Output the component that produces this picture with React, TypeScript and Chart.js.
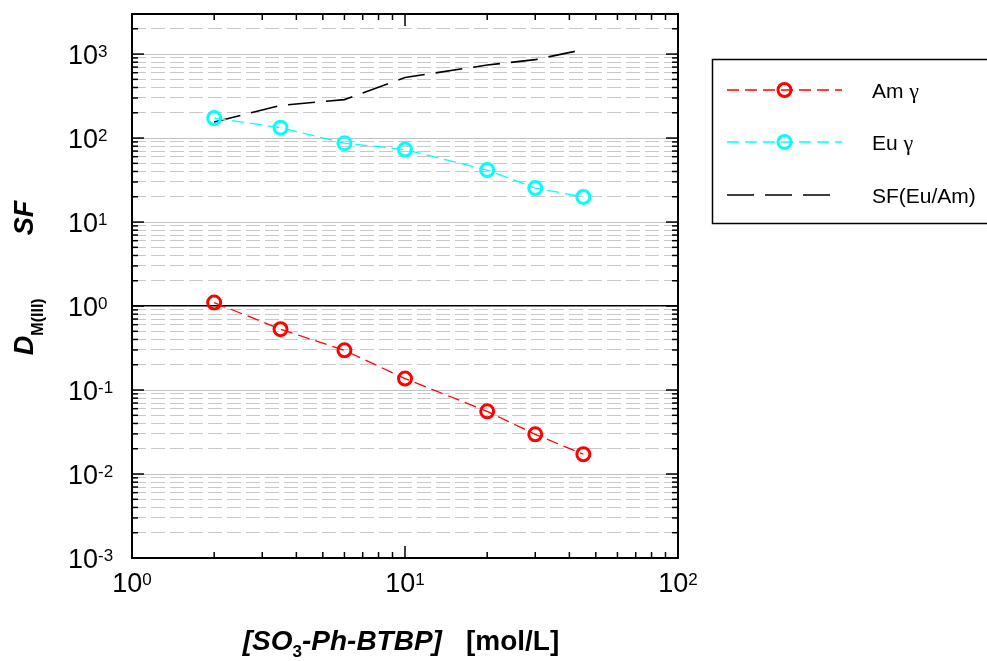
import React, { useEffect, useRef } from 'react';
import { Chart, registerables } from 'chart.js';

Chart.register(...registerables);

const FONT = '"Liberation Sans", Arial, Helvetica, sans-serif';
const SERIF = '"Liberation Serif", "Times New Roman", serif';

// ---- data ----
const concentrations = [2, 3.5, 6, 10, 20, 30, 45];
const amD = [1.1, 0.53, 0.297, 0.137, 0.0557, 0.0297, 0.0172];
const euD = [173, 133, 87, 73, 41.6, 25.4, 19.9];
const sfEuAm = [155, 245, 287, 526, 740, 858, 1130];
const seriesLabels = ['Am γ', 'Eu γ', 'SF(Eu/Am)'];
const xRange = [1, 100];
const yRange = [0.001, 3000];
const tickBase = '10';

type Part = { text: string; kind: 'bi' | 'b' | 'sub' | 'gap' };
const xTitleParts: Part[] = [
  { text: '[SO', kind: 'bi' },
  { text: '3', kind: 'sub' },
  { text: '-Ph-BTBP]', kind: 'bi' },
  { text: '   ', kind: 'gap' },
  { text: '[mol/L]', kind: 'b' },
];
const yTitleParts: Part[] = [
  { text: 'D', kind: 'bi' },
  { text: 'M(III)', kind: 'sub' },
  { text: '      ', kind: 'gap' },
  { text: 'SF', kind: 'bi' },
];

const isPow10 = (v: number) => {
  const l = Math.log10(v);
  return Math.abs(l - Math.round(l)) < 1e-6;
};
const expOf = (v: number) => String(Math.round(Math.log10(v)));

function logTicks(min: number, max: number) {
  const out: { value: number; major: boolean }[] = [];
  for (let e = Math.floor(Math.log10(min)); e <= Math.ceil(Math.log10(max)); e++) {
    for (let m = 1; m <= 9; m++) {
      const v = Number((m * Math.pow(10, e)).toPrecision(8));
      if (v >= min * (1 - 1e-9) && v <= max * (1 + 1e-9)) out.push({ value: v, major: m === 1 });
    }
  }
  return out;
}

function fontFor(kind: Part['kind'], size: number, subSize: number) {
  if (kind === 'bi') return `italic bold ${size}px ${FONT}`;
  if (kind === 'sub') return `bold ${subSize}px ${FONT}`;
  return `bold ${size}px ${FONT}`;
}

function drawRich(
  ctx: CanvasRenderingContext2D,
  parts: Part[],
  size: number,
  subSize: number,
  subShift: number,
  gapPerChar: number
) {
  const widths = parts.map((p) => {
    if (p.kind === 'gap') return p.text.length * gapPerChar;
    ctx.font = fontFor(p.kind, size, subSize);
    return ctx.measureText(p.text).width;
  });
  const total = widths.reduce((a, b) => a + b, 0);
  let x = -total / 2;
  parts.forEach((p, i) => {
    if (p.kind !== 'gap') {
      ctx.font = fontFor(p.kind, size, subSize);
      ctx.fillText(p.text, x, p.kind === 'sub' ? subShift : 0);
    }
    x += widths[i];
  });
}

const BASE_FONT = `27px ${FONT}`;
const SUP_FONT = `17px ${FONT}`;

const framePlugin = {
  id: 'frameTicks',
  afterDatasetsDraw(chart: any) {
    const { ctx, chartArea: a, scales } = chart;
    ctx.save();
    ctx.strokeStyle = '#000';
    ctx.lineWidth = 1.5;
    ctx.setLineDash([]);
    const seg = (x1: number, y1: number, x2: number, y2: number) => {
      ctx.beginPath();
      ctx.moveTo(x1, y1);
      ctx.lineTo(x2, y2);
      ctx.stroke();
    };
    scales.y.ticks.forEach((t: any) => {
      const py = scales.y.getPixelForValue(t.value);
      const len = isPow10(t.value) ? 12 : 6;
      seg(a.left, py, a.left + len, py);
      seg(a.right, py, a.right - len, py);
    });
    scales.x.ticks.forEach((t: any) => {
      const px = scales.x.getPixelForValue(t.value);
      const len = isPow10(t.value) ? 12 : 6;
      seg(px, a.bottom, px, a.bottom - len);
      seg(px, a.top, px, a.top + len);
    });
    ctx.lineWidth = 2;
    ctx.strokeRect(a.left, a.top, a.right - a.left, a.bottom - a.top);

    // power-of-ten tick labels with superscript exponents
    ctx.fillStyle = '#000';
    ctx.textAlign = 'left';
    ctx.textBaseline = 'alphabetic';
    scales.y.ticks.forEach((t: any) => {
      if (!isPow10(t.value)) return;
      const py = scales.y.getPixelForValue(t.value);
      ctx.font = BASE_FONT;
      const x0 = a.left - 64;
      ctx.fillText(tickBase, x0, py + 9.8);
      const wb = ctx.measureText(tickBase).width;
      ctx.font = SUP_FONT;
      ctx.fillText(expOf(t.value), x0 + wb, py + 2.5);
    });
    scales.x.ticks.forEach((t: any) => {
      if (!isPow10(t.value)) return;
      const px = scales.x.getPixelForValue(t.value);
      ctx.font = BASE_FONT;
      const wb = ctx.measureText(tickBase).width;
      ctx.font = SUP_FONT;
      const ws = ctx.measureText(expOf(t.value)).width;
      const x0 = px - (wb + ws) / 2;
      const base = a.bottom + 34;
      ctx.font = BASE_FONT;
      ctx.fillText(tickBase, x0, base);
      ctx.font = SUP_FONT;
      ctx.fillText(expOf(t.value), x0 + wb, base - 7.5);
    });
    ctx.restore();
  },
};

const titlePlugin = {
  id: 'richTitles',
  afterDraw(chart: any) {
    const { ctx, chartArea: a } = chart;
    ctx.save();
    ctx.fillStyle = '#000';
    ctx.textBaseline = 'alphabetic';
    ctx.textAlign = 'left';
    ctx.save();
    ctx.translate((a.left + a.right) / 2 - 4, 650);
    drawRich(ctx, xTitleParts, 28, 17, 7, 8);
    ctx.restore();
    ctx.save();
    ctx.translate(33, (a.top + a.bottom) / 2 - 8);
    ctx.rotate(-Math.PI / 2);
    drawRich(ctx, yTitleParts, 27, 16, 10, 10.5);
    ctx.restore();
    ctx.restore();
  },
};

function drawLegendLabel(ctx: CanvasRenderingContext2D, label: string, x: number, y: number) {
  let cx = x;
  for (const ch of label) {
    const greek = /[\u0370-\u03ff]/.test(ch);
    ctx.font = greek ? `22px ${SERIF}` : `21px ${FONT}`;
    ctx.fillText(ch, cx, y);
    cx += ctx.measureText(ch).width;
  }
}

const legendPlugin = {
  id: 'boxLegend',
  afterDraw(chart: any) {
    const ctx: CanvasRenderingContext2D = chart.ctx;
    const boxLeft = 712;
    const boxTop = 59;
    const boxH = 164;
    ctx.save();
    ctx.strokeStyle = '#000';
    ctx.lineWidth = 1.5;
    ctx.setLineDash([]);
    ctx.strokeRect(boxLeft + 0.5, boxTop + 0.5, 300, boxH);
    const rows = [90, 142, 195];
    chart.data.datasets.forEach((ds: any, i: number) => {
      const y = rows[i];
      ctx.strokeStyle = ds.borderColor;
      ctx.lineWidth = ds.borderWidth;
      ctx.setLineDash(ds.borderDash || []);
      ctx.beginPath();
      ctx.moveTo(727, y);
      ctx.lineTo(ds.pointRadius > 0 ? 842 : 831, y);
      ctx.stroke();
      if (ds.pointRadius > 0) {
        ctx.setLineDash([]);
        ctx.lineWidth = ds.pointBorderWidth;
        ctx.strokeStyle = ds.pointBorderColor;
        ctx.beginPath();
        ctx.arc(784.5, y, ds.pointRadius, 0, Math.PI * 2);
        ctx.stroke();
      }
      ctx.fillStyle = '#000';
      ctx.textBaseline = 'alphabetic';
      ctx.textAlign = 'left';
      drawLegendLabel(ctx, ds.label, 872, y + 7.5);
    });
    ctx.restore();
  },
};

export default function App() {
  const ref = useRef<HTMLCanvasElement | null>(null);

  useEffect(() => {
    if (!ref.current) return;
    const pts = (ys: number[]) => concentrations.map((x, i) => ({ x, y: ys[i] }));
    const chart = new Chart(ref.current, {
      type: 'line',
      data: {
        datasets: [
          {
            label: seriesLabels[0],
            data: pts(amD),
            borderColor: '#ff0000',
            borderWidth: 1.3,
            borderDash: [12, 6],
            pointRadius: 6.5,
            pointBorderWidth: 3,
            pointBorderColor: '#ff0000',
            pointBackgroundColor: 'rgba(0,0,0,0)',
            fill: false,
            tension: 0,
          },
          {
            label: seriesLabels[1],
            data: pts(euD),
            borderColor: '#00ffff',
            borderWidth: 1.3,
            borderDash: [12, 6],
            pointRadius: 6.5,
            pointBorderWidth: 3,
            pointBorderColor: '#00ffff',
            pointBackgroundColor: 'rgba(0,0,0,0)',
            fill: false,
            tension: 0,
          },
          {
            label: seriesLabels[2],
            data: pts(sfEuAm),
            borderColor: '#000000',
            borderWidth: 1.6,
            borderDash: [27, 11],
            pointRadius: 0,
            pointBorderWidth: 0,
            pointBorderColor: '#000000',
            fill: false,
            tension: 0,
          },
        ],
      },
      options: {
        animation: false,
        responsive: false,
        devicePixelRatio: 1,
        layout: { padding: { top: 14, right: 309, left: 0, bottom: 0 } },
        plugins: { legend: { display: false }, tooltip: { enabled: false } },
        scales: {
          x: {
            type: 'logarithmic',
            min: xRange[0],
            max: xRange[1],
            afterFit: (s: any) => {
              s.height = 103;
              s.paddingLeft = 0;
              s.paddingRight = 0;
            },
            afterBuildTicks: (s: any) => {
              s.ticks = logTicks(xRange[0], xRange[1]);
            },
            grid: { display: false, drawTicks: false },
            border: { display: false },
            ticks: { display: false, autoSkip: false },
          },
          y: {
            type: 'logarithmic',
            min: yRange[0],
            max: yRange[1],
            afterFit: (s: any) => {
              s.width = 132;
              s.paddingTop = 0;
              s.paddingBottom = 0;
            },
            afterBuildTicks: (s: any) => {
              s.ticks = logTicks(yRange[0], yRange[1]);
            },
            grid: {
              drawTicks: false,
              color: (c: any) => {
                const v = c.tick ? c.tick.value : 0;
                if (Math.abs(v - 1) < 1e-9) return '#000000';
                return isPow10(v) ? '#c0c0c0' : '#c8c8c8';
              },
              lineWidth: (c: any) => (c.tick && Math.abs(c.tick.value - 1) < 1e-9 ? 1.5 : 1),
            },
            border: {
              display: false,
              dash: (c: any) => (c.tick && !isPow10(c.tick.value) ? [14, 5] : []),
            },
            ticks: { display: false, autoSkip: false },
          },
        },
      },
      plugins: [framePlugin, titlePlugin, legendPlugin],
    } as any);
    return () => chart.destroy();
  }, []);

  return (
    <div style={{ position: 'absolute', left: 0, top: 0, width: 987, height: 661, background: '#fff' }}>
      <canvas ref={ref} width={987} height={661} style={{ width: 987, height: 661, display: 'block' }} />
    </div>
  );
}
